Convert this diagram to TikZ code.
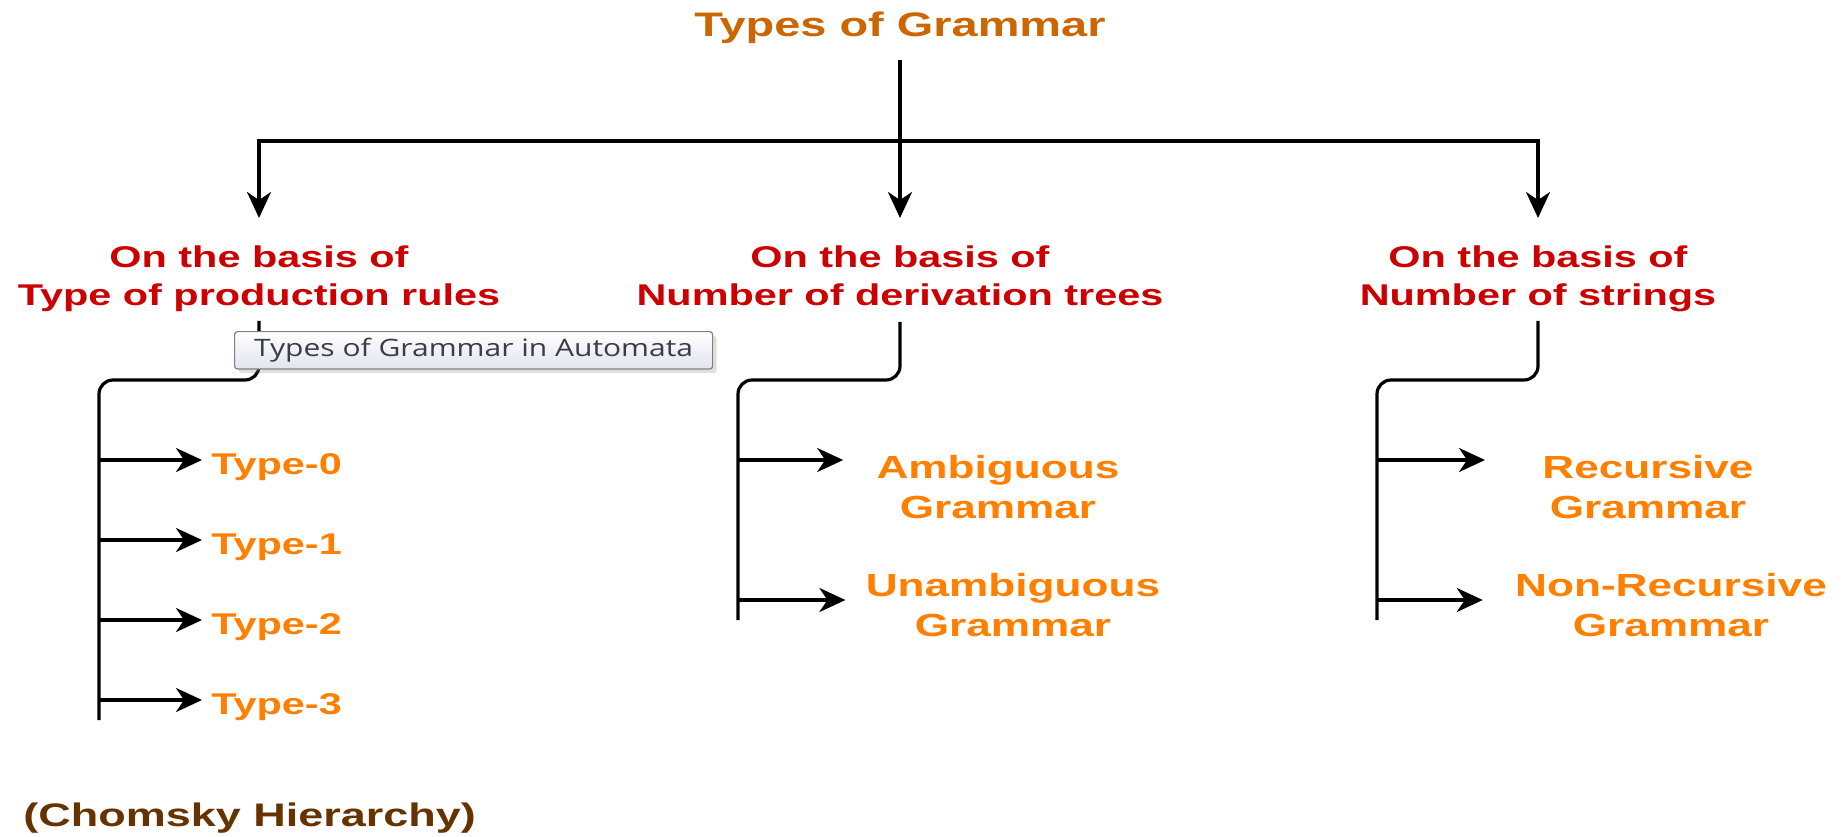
\documentclass[tikz,border=0pt]{standalone}
\usepackage{fontspec}
\setmainfont[FakeStretch=1.38]{Liberation Sans}
\newfontfamily\hintfont[FakeStretch=1.25]{Open Sans}
\usetikzlibrary{arrows.meta, positioning, shadows}

\begin{document}
\begin{tikzpicture}[x=0.5pt, y=-0.5pt]
  \definecolor{titlecol}{HTML}{CC6600}
  \definecolor{basiscol}{HTML}{CC0000}
  \definecolor{leafcol}{HTML}{FF8000}
  \definecolor{notecol}{HTML}{663300}
  \definecolor{hintbg}{HTML}{E2E3EE}
  \definecolor{hinttext}{HTML}{3C3C48}

  \tikzset{
    title/.style={
      font=\bfseries\fontsize{17}{20}\selectfont,
      text=titlecol, inner sep=0pt
    },
    basis/.style={
      font=\bfseries\fontsize{15}{19}\selectfont,
      text=basiscol, align=center, inner sep=0pt
    },
    leaf/.style={
      font=\bfseries\fontsize{15}{19}\selectfont,
      text=leafcol, inner xsep=4.5pt, inner ysep=0pt
    },
    gram/.style={
      font=\bfseries\fontsize{16}{20}\selectfont,
      text=leafcol, align=center, inner sep=0pt
    },
    note/.style={
      font=\bfseries\fontsize{16.3}{20}\selectfont,
      text=notecol, inner sep=0pt
    },
    hint/.style={
      rectangle, rounded corners=1.5pt,
      minimum width=239pt, minimum height=18.5pt,
      font=\hintfont\fontsize{12}{14}\selectfont, text=hinttext,
      draw=black!50, line width=0.6pt,
      top color=white, bottom color=hintbg,
      drop shadow={shadow xshift=2pt, shadow yshift=-2pt, opacity=0.25}
    },
    wire/.style={line width=1.6pt, draw=black},
    elbow/.style={wire, rounded corners=7pt},
    arr/.style={
      wire, -{Stealth[length=13pt, width=12pt, inset=4pt]}
    }
  }

  \useasboundingbox (0,0) rectangle (1842,836);

  \node[title, anchor=base] (types) at (900,36) {Types of Grammar};

  \node[basis, anchor=north] (prod) at (259,245) {On the basis of\\Type of production rules};
  \node[basis, anchor=north] (deriv) at (900,245) {On the basis of\\Number of derivation trees};
  \node[basis, anchor=north] (strs) at (1538,245) {On the basis of\\Number of strings};

  \coordinate (hub) at (900,141);
  \draw[arr, shorten <=8.5pt, shorten >=13.5pt] (types.south) -- (deriv.north);
  \draw[arr, shorten >=13.5pt] (hub) -| (prod.north);
  \draw[arr, shorten >=13.5pt] (hub) -| (strs.north);

  % production rules
  \coordinate (pj) at (99,380);
  \coordinate (pe) at (99,720);
  \draw[elbow, shorten <=4.5pt] (prod.south) |- (pj) -- (pe);
  \node[leaf, anchor=base west] (t0) at (202,474) {Type-0};
  \node[leaf, anchor=base west] (t1) at (202,554) {Type-1};
  \node[leaf, anchor=base west] (t2) at (202,634) {Type-2};
  \node[leaf, anchor=base west] (t3) at (202,714) {Type-3};
  \coordinate (p0) at (99,460);
  \coordinate (p1) at (99,540);
  \coordinate (p2) at (99,620);
  \coordinate (p3) at (99,700);
  \draw[arr] (p0) -- (p0 -| t0.west);
  \draw[arr] (p1) -- (p1 -| t1.west);
  \draw[arr] (p2) -- (p2 -| t2.west);
  \draw[arr] (p3) -- (p3 -| t3.west);
  \node[note, anchor=base west] (chomsky) at (23,826) {(Chomsky Hierarchy)};

  % derivation trees
  \coordinate (dj) at (738,380);
  \coordinate (de) at (738,620);
  \draw[elbow, shorten <=8pt] (deriv.south) |- (dj) -- (de);
  \node[gram, anchor=north] (amb) at (998,455) {Ambiguous\\Grammar};
  \node[gram, anchor=north] (unamb) at (1013,573) {Unambiguous\\Grammar};
  \coordinate (d1) at (738,460);
  \coordinate (d2) at (738,600);
  \draw[arr, shorten >=16.5pt] (d1) -- (d1 -| amb.west);
  \draw[arr, shorten >=10pt] (d2) -- (d2 -| unamb.west);

  % strings
  \coordinate (sj) at (1377,380);
  \coordinate (se) at (1377,620);
  \draw[elbow, shorten <=4.5pt] (strs.south) |- (sj) -- (se);
  \node[gram, anchor=north] (rec) at (1648,455) {Recursive\\Grammar};
  \node[gram, anchor=north] (nonrec) at (1671,573) {Non-Recursive\\Grammar};
  \coordinate (s1) at (1377,460);
  \coordinate (s2) at (1377,600);
  \draw[arr, shorten >=28.5pt] (s1) -- (s1 -| rec.west);
  \draw[arr, shorten >=16pt] (s2) -- (s2 -| nonrec.west);

  \node[hint, anchor=north west] (hintbox) at (234,331) {Types of Grammar in Automata};
\end{tikzpicture}
\end{document}
